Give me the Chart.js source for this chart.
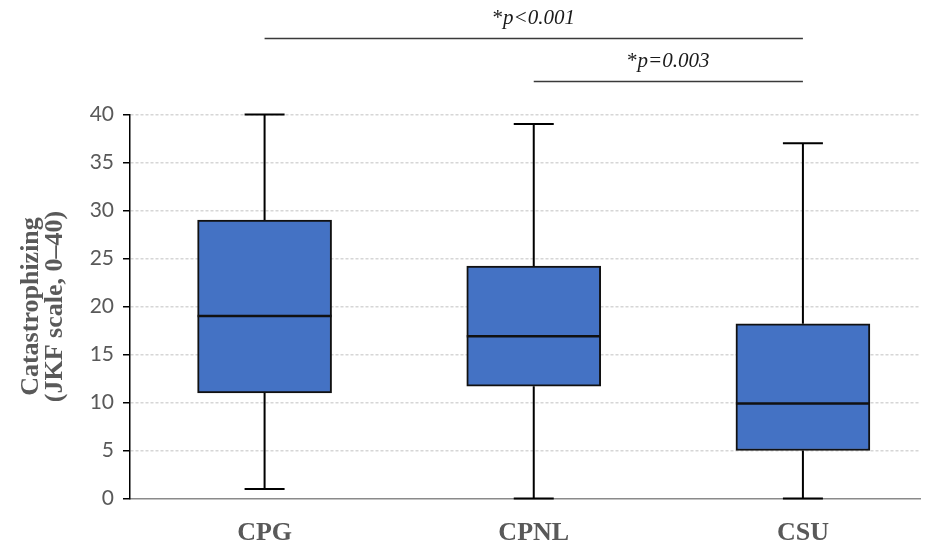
<!DOCTYPE html>
<html>
<head>
<meta charset="utf-8">
<script src="https://cdn.jsdelivr.net/npm/chart.js@4/dist/chart.umd.min.js"></script>
<style>
  html, body { margin: 0; padding: 0; background: #ffffff; }
  #wrap { width: 927px; height: 547px; position: relative; }
</style>
</head>
<body>
<div id="wrap"><canvas id="c"></canvas></div>
<script>
// ---- data ----
const categories = ['CPG', 'CPNL', 'CSU'];
const minValues    = [1, 0, 0];
const q1Values     = [11, 11.7, 5];
const medianValues = [19, 16.9, 9.9];
const q3Values     = [29, 24.2, 18.2];
const maxValues    = [40, 39, 37];
const yTickValues  = [0, 5, 10, 15, 20, 25, 30, 35, 40];
const yTitleLines  = ['Catastrophizing', '(JKF scale, 0\u201340)'];
// significance brackets: category indices and label
const bracketFrom   = [0, 1];
const bracketTo     = [2, 2];
const bracketLabels = ['p<0.001', 'p=0.003'];
const bracketLevels = [48, 43.5];   // in y-axis units (above the plot)

const boxData = categories.map((c, i) => ({ x: i + 1, y: [q1Values[i], q3Values[i]] }));

const boxPlugin = {
  id: 'boxExtras',
  afterDatasetsDraw(chart) {
    const { ctx, scales: { x, y } } = chart;
    const meta = chart.getDatasetMeta(0);
    ctx.save();
    ctx.strokeStyle = '#000000';
    ctx.lineCap = 'butt';
    categories.forEach((c, i) => {
      const bar = meta.data[i];
      const cx = x.getPixelForValue(i + 1);
      const halfBox = bar.width / 2;
      const capHalf = 20;
      // whiskers
      ctx.lineWidth = 2;
      ctx.beginPath();
      ctx.moveTo(cx, y.getPixelForValue(q3Values[i]));
      ctx.lineTo(cx, y.getPixelForValue(maxValues[i]));
      ctx.moveTo(cx, y.getPixelForValue(q1Values[i]));
      ctx.lineTo(cx, y.getPixelForValue(minValues[i]));
      ctx.stroke();
      // caps
      ctx.beginPath();
      ctx.moveTo(cx - capHalf, y.getPixelForValue(maxValues[i]));
      ctx.lineTo(cx + capHalf, y.getPixelForValue(maxValues[i]));
      ctx.moveTo(cx - capHalf, y.getPixelForValue(minValues[i]));
      ctx.lineTo(cx + capHalf, y.getPixelForValue(minValues[i]));
      ctx.stroke();
      // median
      ctx.lineWidth = 2.5;
      ctx.strokeStyle = '#111111';
      ctx.beginPath();
      ctx.moveTo(cx - halfBox, y.getPixelForValue(medianValues[i]));
      ctx.lineTo(cx + halfBox, y.getPixelForValue(medianValues[i]));
      ctx.stroke();
      ctx.strokeStyle = '#000000';
    });
    ctx.restore();
  },
  afterDraw(chart) {
    const { ctx, scales: { x, y } } = chart;
    ctx.save();
    bracketLabels.forEach((lab, k) => {
      const x1 = x.getPixelForValue(bracketFrom[k] + 1);
      const x2 = x.getPixelForValue(bracketTo[k] + 1);
      const ly = Math.round(y.getPixelForValue(bracketLevels[k])) + 0.5;
      ctx.strokeStyle = '#3a3a3a';
      ctx.lineWidth = 1.5;
      ctx.beginPath();
      ctx.moveTo(x1, ly);
      ctx.lineTo(x2, ly);
      ctx.stroke();
      // label: upright asterisk + italic text
      const star = '*';
      ctx.font = '21px "Liberation Serif", serif';
      const ws = ctx.measureText(star).width;
      ctx.font = 'italic 21px "Liberation Serif", serif';
      const wt = ctx.measureText(lab).width;
      const mid = (x1 + x2) / 2;
      const startX = mid - (ws + wt) / 2;
      const by = ly - 15;
      ctx.fillStyle = '#1a1a1a';
      ctx.textBaseline = 'alphabetic';
      ctx.textAlign = 'left';
      ctx.font = '21px "Liberation Serif", serif';
      ctx.fillText(star, startX, by);
      ctx.font = 'italic 21px "Liberation Serif", serif';
      ctx.fillText(lab, startX + ws, by);
    });
    ctx.restore();
  }
};

new Chart(document.getElementById('c'), {
  type: 'bar',
  data: {
    datasets: [{
      data: boxData,
      backgroundColor: '#4472C4',
      borderColor: '#111111',
      borderWidth: 2,
      borderSkipped: false,
      barThickness: 134
    }]
  },
  options: {
    responsive: true,
    maintainAspectRatio: false,
    animation: false,
    layout: { padding: { top: 114.5, right: 7, left: 0, bottom: 0 } },
    plugins: { legend: { display: false }, tooltip: { enabled: false } },
    scales: {
      x: {
        type: 'linear',
        min: 0.5,
        max: 3.435,
        offset: false,
        afterFit(scale) { scale.height = 48.5; },
        afterBuildTicks(scale) { scale.ticks = categories.map((c, i) => ({ value: i + 1 })); },
        grid: { display: true, offset: false, drawOnChartArea: false, drawTicks: false },
        border: { display: true, color: '#8a8a8a', width: 1.5 },
        ticks: {
          autoSkip: false,
          maxRotation: 0,
          padding: 19,
          color: '#595959',
          font: { family: '"Liberation Serif", serif', size: 26, weight: 'bold' },
          callback: (v) => categories[v - 1] || ''
        }
      },
      y: {
        min: 0,
        max: 40,
        afterFit(scale) { scale.width = 130; },
        afterBuildTicks(scale) { scale.ticks = yTickValues.map(v => ({ value: v })); },
        grid: {
          color: (ctx) => (ctx.tick && ctx.tick.value === 0) ? 'rgba(0,0,0,0)' : '#d6d6d6',
          lineWidth: 1.5,
          tickColor: '#000000',
          tickLength: 7,
          tickWidth: 1.5
        },
        border: { display: true, color: '#000000', width: 1.5, dash: [3, 2] },
        ticks: {
          padding: 9,
          color: '#595959',
          font: { family: 'Lato, sans-serif', size: 21 },
          callback: (v) => String(v)
        },
        title: {
          display: true,
          text: yTitleLines,
          color: '#595959',
          font: { family: '"Liberation Serif", serif', size: 26, weight: 'bold', lineHeight: 0.92 },
          padding: { top: 19, bottom: 0 }
        }
      }
    }
  },
  plugins: [boxPlugin]
});
</script>
</body>
</html>
